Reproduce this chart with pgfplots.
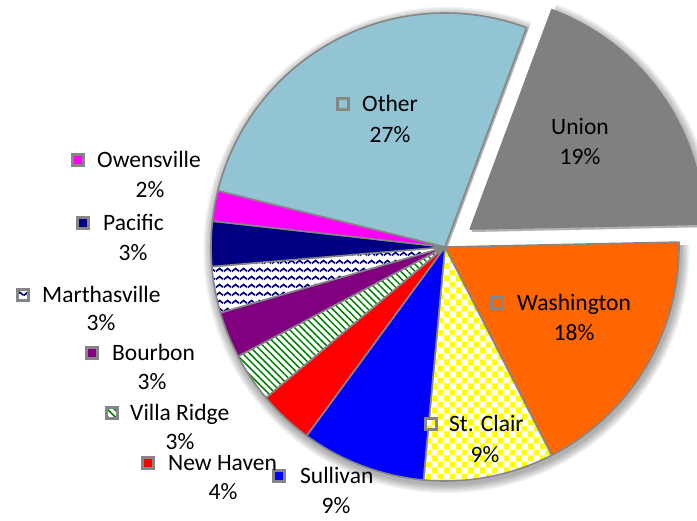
\documentclass[border=0pt]{standalone}
\usepackage{fontspec}
\setmainfont{Carlito}
\usepackage{pgfplots}
\pgfplotsset{compat=1.18}
\usepackage{pgfplotstable}
\usetikzlibrary{patterns,patterns.meta}

\definecolor{cOther}{RGB}{146,196,212}
\definecolor{cUnion}{RGB}{128,128,128}
\definecolor{cWash}{RGB}{255,102,0}
\definecolor{cCheck}{RGB}{255,255,0}
\definecolor{cSull}{RGB}{0,0,255}
\definecolor{cNH}{RGB}{255,0,0}
\definecolor{cGreen}{RGB}{0,128,0}
\definecolor{cPurple}{RGB}{128,0,128}
\definecolor{cNavy}{RGB}{0,0,128}
\definecolor{cMag}{RGB}{255,0,255}
\definecolor{cBorder}{RGB}{134,134,134}

\pgfdeclarepatternformonly{mycheck}{\pgfqpoint{0pt}{0pt}}{\pgfqpoint{12pt}{12pt}}{\pgfqpoint{12pt}{12pt}}{%
  \pgfpathrectangle{\pgfqpoint{0pt}{0pt}}{\pgfqpoint{6pt}{6pt}}%
  \pgfpathrectangle{\pgfqpoint{6pt}{6pt}}{\pgfqpoint{6pt}{6pt}}%
  \pgfusepath{fill}}
\pgfdeclarepatternformonly{mywave}{\pgfqpoint{0pt}{0pt}}{\pgfqpoint{8pt}{8pt}}{\pgfqpoint{8pt}{8pt}}{%
  \pgfsetlinewidth{1.8pt}%
  \pgfpathmoveto{\pgfqpoint{0pt}{1.8pt}}%
  \pgfpathlineto{\pgfqpoint{4pt}{5pt}}%
  \pgfpathlineto{\pgfqpoint{8pt}{1.8pt}}%
  \pgfusepath{stroke}}

\tikzset{
  slice0/.style={fill=cUnion, draw=cUnion},
  slice1/.style={fill=cWash},
  slice2/.style={preaction={fill=white}, pattern=mycheck, pattern color=cCheck},
  slice3/.style={fill=cSull},
  slice4/.style={fill=cNH},
  slice5/.style={preaction={fill=white}, pattern={Lines[angle=-45,distance=5pt,line width=1.5pt]}, pattern color=cGreen},
  slice6/.style={fill=cPurple},
  slice7/.style={preaction={fill=white}, pattern=mywave, pattern color=cNavy},
  slice8/.style={fill=cNavy},
  slice9/.style={fill=cMag},
  slice10/.style={fill=cOther},
}
\newcommand\lbl{\fontsize{23.5pt}{28pt}\selectfont}

% value = share in percent; key/kx/ky/nx/pcx/pcy = label layout (pixels, y downwards)
\pgfplotstableread[col sep=comma]{
name,value,key,kx,ky,nx,pcx,pcy
Union,19.0,0,0,127,551,580,157
Washington,17.8,1,497,303,517,574,333
St. Clair,9.0,1,431,424,449,485,455
Sullivan,8.6,1,279,476,300,336,506
New Haven,3.8,1,148,463,168,223,492
Villa Ridge,3.4,1,112,413,130,180,442
Bourbon,3.2,1,92,353,112,152,382
Marthasville,3.2,1,23,295,42,101,323
Pacific,3.1,1,83,223,103,133,253
Owensville,2.1,1,78,160,97,150,190
Other,26.8,1,343,104,362,390,135
}\pietable

\begin{document}
\begin{tikzpicture}
\begin{axis}[name=ax, x=1pt, y=1pt, xmin=0, xmax=697, ymin=0, ymax=521,
  y dir=reverse, hide axis, clip=true]
\def\cx{445}\def\cy{247}\def\rad{234}
\pgfmathsetmacro{\startang}{69.6}
% shadows
\pgfplotstablegetelem{0}{value}\of\pietable \let\uval\pgfplotsretval
\pgfmathsetmacro{\uend}{\startang-3.6*\uval}
\pgfmathsetmacro{\umid}{(\startang+\uend)/2}
\pgfmathsetmacro{\ux}{31*cos(\umid)}
\pgfmathsetmacro{\uy}{31*sin(\umid)}
\pgfmathsetmacro{\mainend}{\startang-360}
\pgfplotsforeachungrouped \k in {1,...,7}{%
  \pgfmathsetmacro{\rr}{\rad+\k*1.3}
  \edef\cmd{\noexpand\fill[black, opacity=0.05, shift={(1.5pt,-3pt)}] (axis cs:\cx,\cy) -- ++(\uend:\rr pt) arc[start angle=\uend, end angle=\mainend, radius=\rr pt] -- cycle;
  \noexpand\fill[black, opacity=0.05, shift={(\ux pt+1.5pt,\uy pt-3pt)}] (axis cs:\cx,\cy) -- ++(\startang:\rr pt) arc[start angle=\startang, end angle=\uend, radius=\rr pt] -- cycle;}%
  \cmd
}
% slices
\let\curang\startang
\pgfplotsforeachungrouped \i in {0,...,10}{%
  \pgfplotstablegetelem{\i}{value}\of\pietable \let\val\pgfplotsretval
  \pgfmathsetmacro{\endang}{\curang-3.6*\val}
  \ifnum\i=0 \let\dx\ux \let\dy\uy \else \def\dx{0}\def\dy{0}\fi
  \edef\cmd{\noexpand\filldraw[draw=cBorder, line width=1.6pt, line join=round, slice\i, shift={(\dx pt,\dy pt)}] (axis cs:\cx,\cy) -- ++(\curang:\rad pt) arc[start angle=\curang, end angle=\endang, radius=\rad pt] -- cycle;}%
  \cmd
  \global\let\curang\endang
}
% labels
\pgfplotsforeachungrouped \i in {0,...,10}{%
  \pgfplotstablegetelem{\i}{name}\of\pietable \let\nm\pgfplotsretval
  \pgfplotstablegetelem{\i}{value}\of\pietable \let\val\pgfplotsretval
  \pgfplotstablegetelem{\i}{key}\of\pietable \let\haskey\pgfplotsretval
  \pgfplotstablegetelem{\i}{kx}\of\pietable \let\kx\pgfplotsretval
  \pgfplotstablegetelem{\i}{ky}\of\pietable \let\ky\pgfplotsretval
  \pgfplotstablegetelem{\i}{nx}\of\pietable \let\nx\pgfplotsretval
  \pgfplotstablegetelem{\i}{pcx}\of\pietable \let\pcx\pgfplotsretval
  \pgfplotstablegetelem{\i}{pcy}\of\pietable \let\pcy\pgfplotsretval
  \pgfmathtruncatemacro{\pct}{round(\val)}
  \pgfmathsetmacro{\nyb}{\ky+7.5}
  \pgfmathsetmacro{\pyb}{\pcy+7.5}
  \ifnum\haskey=1
    \edef\cmd{\noexpand\filldraw[draw=cBorder, line width=2.2pt, slice\i] (axis cs:\kx,\ky) ++(-5.5pt,-5.5pt) rectangle ++(11pt,11pt);}%
    \cmd
  \fi
  \edef\cmd{\noexpand\node[anchor=base west, inner sep=0pt, font=\noexpand\lbl] at (axis cs:\nx,\nyb) {\nm};
  \noexpand\node[anchor=base, inner sep=0pt, font=\noexpand\lbl] at (axis cs:\pcx,\pyb) {\pct\noexpand\%};}%
  \cmd
}
\end{axis}
\pgfresetboundingbox
\path[use as bounding box] (ax.south west) rectangle (ax.north east);
\end{tikzpicture}
\end{document}
